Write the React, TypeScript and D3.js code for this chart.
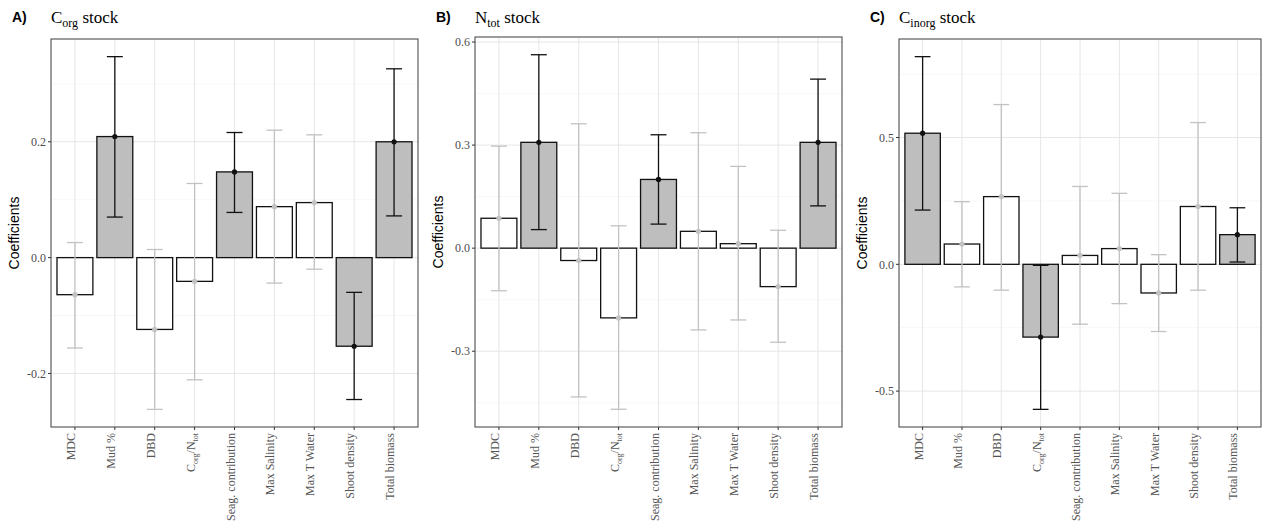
import React from 'react';
import { scaleBand, scaleLinear } from 'd3';

const categories = ['MDC', 'Mud %', 'DBD', 'C_{org}/N_{tot}', 'Seag. contribution', 'Max Salinity', 'Max T Water', 'Shoot density', 'Total biomass'];

// A) Corg stock
const corgEst = [-0.064, 0.209, -0.124, -0.041, 0.148, 0.088, 0.095, -0.153, 0.200];
const corgLow = [-0.156, 0.070, -0.262, -0.211, 0.078, -0.044, -0.020, -0.245, 0.072];
const corgHigh = [0.026, 0.347, 0.014, 0.128, 0.216, 0.220, 0.212, -0.060, 0.326];
const corgSig = [false, true, false, false, true, false, false, true, true];
const corgTicks = [-0.2, 0, 0.2];

// B) Ntot stock
const ntotEst = [0.087, 0.308, -0.036, -0.203, 0.200, 0.049, 0.013, -0.112, 0.308];
const ntotLow = [-0.124, 0.054, -0.433, -0.469, 0.070, -0.238, -0.209, -0.274, 0.123];
const ntotHigh = [0.297, 0.563, 0.362, 0.065, 0.330, 0.336, 0.238, 0.052, 0.492];
const ntotSig = [false, true, false, false, true, false, false, false, true];
const ntotTicks = [-0.3, 0, 0.3, 0.6];

// C) Cinorg stock
const cinorgEst = [0.517, 0.080, 0.267, -0.287, 0.035, 0.062, -0.113, 0.228, 0.117];
const cinorgLow = [0.214, -0.089, -0.102, -0.572, -0.236, -0.155, -0.265, -0.102, 0.009];
const cinorgHigh = [0.819, 0.247, 0.630, -0.004, 0.307, 0.280, 0.038, 0.559, 0.223];
const cinorgSig = [true, false, false, true, false, false, false, false, true];
const cinorgTicks = [-0.5, 0, 0.5];

const W = 1266;
const H = 524;
const serif = '"Liberation Serif", "Times New Roman", serif';
const sans = '"Liberation Sans", Arial, sans-serif';

// renders "C_{org}" style strings as tspans with subscripts
const Rich = ({ text, sub, shift }: { text: string; sub: number; shift: number }) => {
  const parts = text.split(/(_\{[^}]*\})/).filter(p => p.length);
  let down = false;
  return (
    <>
      {parts.map((p, i) => {
        if (p.startsWith('_{')) {
          const el = <tspan key={i} fontSize={sub} dy={down ? 0 : shift}>{p.slice(2, -1)}</tspan>;
          down = true;
          return el;
        }
        const el = <tspan key={i} dy={down ? -shift : 0}>{p}</tspan>;
        down = false;
        return el;
      })}
    </>
  );
};

interface PanelProps {
  tag: string;
  title: string;
  est: number[];
  low: number[];
  high: number[];
  sig: boolean[];
  ticks: number[];
  box: { left: number; top: number; right: number; bottom: number };
  tagX: number;
}

const Panel = ({ tag, title, est, low, high, sig, ticks, box, tagX }: PanelProps) => {
  const lo = Math.min(...low);
  const hi = Math.max(...high);
  const pad = (hi - lo) * 0.05;
  const y = scaleLinear().domain([lo - pad, hi + pad]).range([box.bottom, box.top]);
  const x = scaleBand<string>()
    .domain(categories)
    .range([box.left, box.right])
    .paddingInner(0.1)
    .paddingOuter(0.15);
  const step = x.step();
  const bw = x.bandwidth();
  const cx = (c: string) => (x(c) as number) + bw / 2;
  const [d0, d1] = y.domain();
  const tstep = ticks[1] - ticks[0];
  const minor = [ticks[0] - tstep / 2, ...ticks.map(t => t + tstep / 2)].filter(v => v > d0 && v < d1);
  const cap = step * 0.2;
  const greyCol = '#c2c2c2';

  return (
    <g>
      <text x={tagX} y={22} fontFamily={sans} fontWeight="bold" fontSize={14} fill="#000">{tag}</text>
      <text x={box.left} y={23} fontFamily={serif} fontSize={17} fill="#000">
        <Rich text={title} sub={12} shift={4} />
      </text>
      <rect x={box.left} y={box.top} width={box.right - box.left} height={box.bottom - box.top} fill="#fff" />
      {minor.map(v => (
        <line key={'mi' + v} x1={box.left} x2={box.right} y1={y(v)} y2={y(v)} stroke="#f2f2f2" strokeWidth={0.6} />
      ))}
      {ticks.map(v => (
        <line key={'ma' + v} x1={box.left} x2={box.right} y1={y(v)} y2={y(v)} stroke="#e6e6e6" strokeWidth={1} />
      ))}
      {categories.map(c => (
        <line key={'vg' + c} x1={cx(c)} x2={cx(c)} y1={box.top} y2={box.bottom} stroke="#e6e6e6" strokeWidth={1} />
      ))}
      {categories.map((c, i) => (
        <rect
          key={'b' + c}
          x={x(c)}
          y={Math.min(y(est[i]), y(0))}
          width={bw}
          height={Math.abs(y(est[i]) - y(0))}
          fill={sig[i] ? '#bebebe' : '#fff'}
          stroke="#111"
          strokeWidth={1.3}
        />
      ))}
      {categories.map((c, i) => {
        const col = sig[i] ? '#111' : greyCol;
        const xc = cx(c);
        return (
          <g key={'e' + c} stroke={col} strokeWidth={1.3}>
            <line x1={xc} x2={xc} y1={y(low[i])} y2={y(high[i])} />
            <line x1={xc - cap} x2={xc + cap} y1={y(low[i])} y2={y(low[i])} />
            <line x1={xc - cap} x2={xc + cap} y1={y(high[i])} y2={y(high[i])} />
            <circle cx={xc} cy={y(est[i])} r={2.6} fill={col} stroke="none" />
          </g>
        );
      })}
      <rect x={box.left} y={box.top} width={box.right - box.left} height={box.bottom - box.top} fill="none" stroke="#4d4d4d" strokeWidth={1.1} />
      {ticks.map(v => (
        <g key={'yt' + v}>
          <line x1={box.left - 3} x2={box.left} y1={y(v)} y2={y(v)} stroke="#333" strokeWidth={1} />
          <text x={box.left - 5} y={y(v)} dy="0.35em" textAnchor="end" fontFamily={serif} fontSize={12} fill="#4d4d4d">
            {v.toFixed(1)}
          </text>
        </g>
      ))}
      {categories.map(c => (
        <g key={'xt' + c}>
          <line x1={cx(c)} x2={cx(c)} y1={box.bottom} y2={box.bottom + 3} stroke="#333" strokeWidth={1} />
          <text
            transform={`translate(${cx(c)},${box.bottom + 6}) rotate(-90)`}
            dy="0.35em"
            textAnchor="end"
            fontFamily={serif}
            fontSize={12}
            fill="#555"
          >
            <Rich text={c} sub={8} shift={3} />
          </text>
        </g>
      ))}
      <text
        transform={`translate(${box.left - 37},${(box.top + box.bottom) / 2}) rotate(-90)`}
        dy="0.35em"
        textAnchor="middle"
        fontFamily={sans}
        fontSize={14}
        fill="#000"
      >
        Coefficients
      </text>
    </g>
  );
};

export default function App() {
  return (
    <svg
      width={W}
      height={H}
      style={{ position: 'absolute', left: 0, top: 0, background: '#fff' }}
    >
      <rect width={W} height={H} fill="#fff" />
      <Panel
        tag="A)"
        title="C_{org} stock"
        est={corgEst}
        low={corgLow}
        high={corgHigh}
        sig={corgSig}
        ticks={corgTicks}
        box={{ left: 51, top: 39, right: 418, bottom: 427 }}
        tagX={12}
      />
      <Panel
        tag="B)"
        title="N_{tot} stock"
        est={ntotEst}
        low={ntotLow}
        high={ntotHigh}
        sig={ntotSig}
        ticks={ntotTicks}
        box={{ left: 475, top: 37, right: 842, bottom: 427 }}
        tagX={436}
      />
      <Panel
        tag="C)"
        title="C_{inorg} stock"
        est={cinorgEst}
        low={cinorgLow}
        high={cinorgHigh}
        sig={cinorgSig}
        ticks={cinorgTicks}
        box={{ left: 899, top: 39, right: 1261, bottom: 427 }}
        tagX={870}
      />
    </svg>
  );
}
